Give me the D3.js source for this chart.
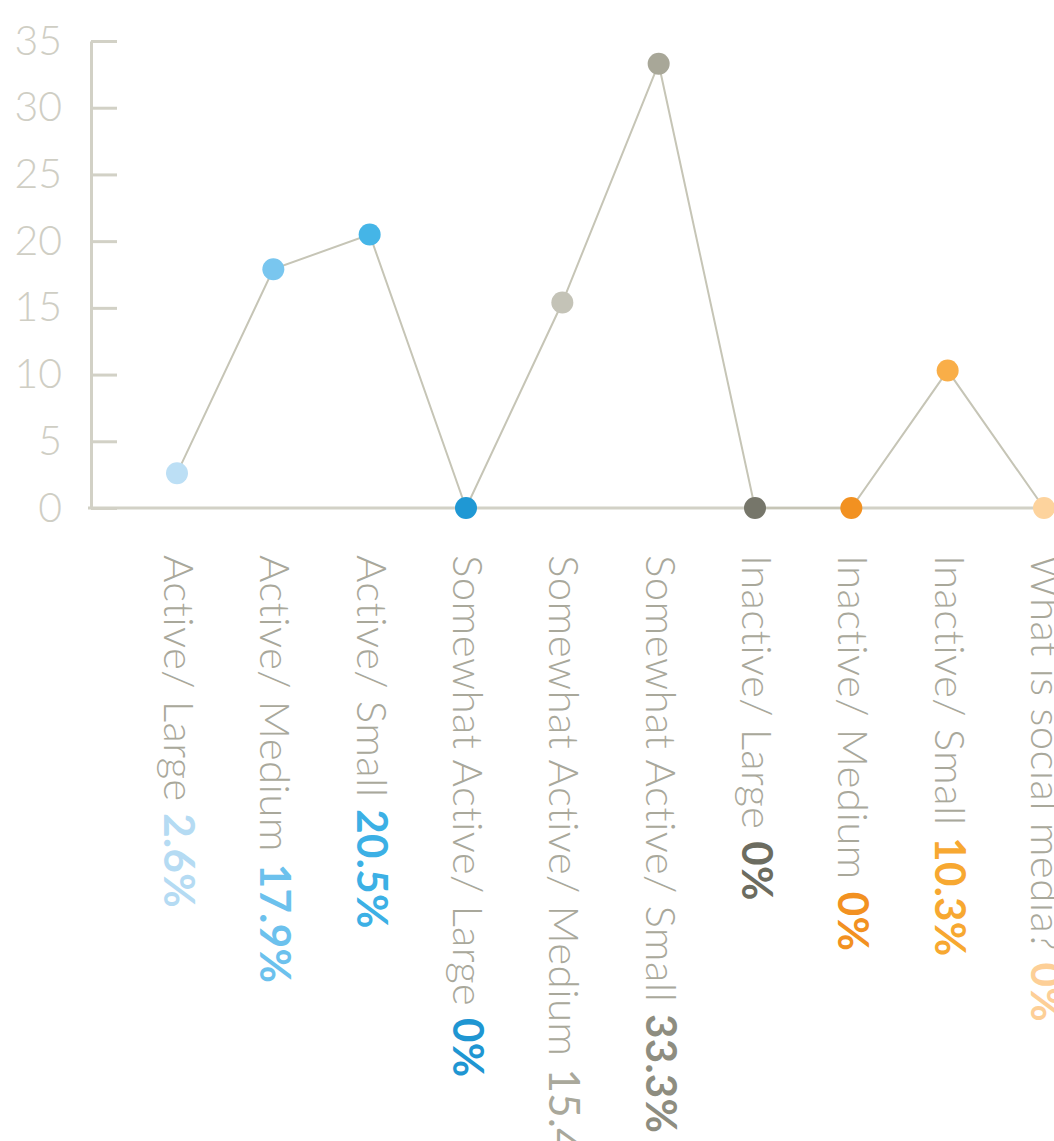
<!DOCTYPE html>
<html>
<head>
<meta charset="utf-8">
<script src="https://cdn.jsdelivr.net/npm/d3@7"></script>
<style>
  body { margin: 0; background: #fff; }
  svg { display: block; }
</style>
</head>
<body>
<script>
// data
const categories = [
  "Active/ Large", "Active/ Medium", "Active/ Small",
  "Somewhat Active/ Large", "Somewhat Active/ Medium", "Somewhat Active/ Small",
  "Inactive/ Large", "Inactive/ Medium", "Inactive/ Small",
  "What is social media?"
];
const values = [2.6, 17.9, 20.5, 0, 15.4, 33.3, 0, 0, 10.3, 0];
const valueLabels = ["2.6%", "17.9%", "20.5%", "0%", "15.4%", "33.3%", "0%", "0%", "10.3%", "0%"];
const yTicks = [0, 5, 10, 15, 20, 25, 30, 35];

// colours per category
const dotColors = ["#bcdff5", "#79c6ef", "#45b5e7", "#1f98d4", "#c4c3b7", "#a8a798", "#76766a", "#f29121", "#f9ae48", "#fdd39d"];
const valueColors = ["#b5dbf3", "#6cc1ed", "#3cb0e5", "#1f96d2", "#a9a89b", "#8e8d80", "#6c6c60", "#f29121", "#f7a831", "#fdcf97"];
// the 15.4% value is printed in the plain weight
const valueWeights = [700, 700, 700, 700, 400, 700, 700, 700, 700, 700];

const width = 1054, height = 1141;
const axisX = 91;

const svg = d3.select("body")
  .append("svg")
  .attr("width", width)
  .attr("height", height);

const x = d3.scalePoint()
  .domain(categories)
  .range([177, 1044]);

const y = d3.scaleLinear()
  .domain([0, 35])
  .range([508, 41]);

const dotColor = d3.scaleOrdinal().domain(categories).range(dotColors);
const valueColor = d3.scaleOrdinal().domain(categories).range(valueColors);

// y axis, ticks pointing into the plot
const yAxis = svg.append("g")
  .attr("transform", `translate(${axisX},0)`)
  .call(d3.axisLeft(y).tickValues(yTicks).tickSize(-26).tickSizeOuter(0).tickPadding(29));

yAxis.select(".domain").attr("stroke", "#d2d1c6").attr("stroke-width", 3);
yAxis.selectAll(".tick line").attr("stroke", "#d2d1c6").attr("stroke-width", 3);
yAxis.selectAll(".tick text")
  .attr("fill", "#cfcec4")
  .style("font-family", "Lato, 'Open Sans', sans-serif")
  .style("font-weight", 300)
  .style("font-size", "41px");

// baseline
svg.append("line")
  .attr("x1", axisX - 3)
  .attr("x2", width)
  .attr("y1", y(0))
  .attr("y2", y(0))
  .attr("stroke", "#d2d1c6")
  .attr("stroke-width", 3);

// the line through the points
const line = d3.line()
  .x((d, i) => x(categories[i]))
  .y(d => y(d));

svg.append("path")
  .datum(values)
  .attr("d", line)
  .attr("fill", "none")
  .attr("stroke", "#c6c5b6")
  .attr("stroke-width", 2);

svg.selectAll("circle")
  .data(values)
  .join("circle")
  .attr("cx", (d, i) => x(categories[i]))
  .attr("cy", d => y(d))
  .attr("r", 11)
  .attr("fill", (d, i) => dotColor(categories[i]));

// rotated category labels
const labels = svg.selectAll("text.cat")
  .data(categories)
  .join("text")
  .attr("class", "cat")
  .attr("transform", d => `translate(${x(d)},555) rotate(90)`)
  .attr("y", 13)
  .style("font-family", "Lato, 'Open Sans', sans-serif")
  .style("font-size", "42px")
  .style("letter-spacing", "0.4px");

labels.append("tspan")
  .attr("fill", "#a9a89b")
  .style("font-weight", 300)
  .text(d => d + " ");

labels.append("tspan")
  .attr("fill", d => valueColor(d))
  .style("font-weight", (d, i) => valueWeights[i])
  .text((d, i) => valueLabels[i]);
</script>
</body>
</html>
